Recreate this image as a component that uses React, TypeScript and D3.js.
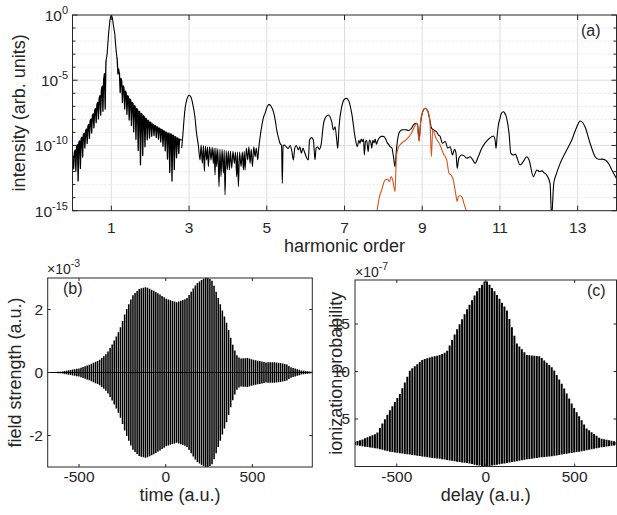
import React from 'react';
import * as d3 from 'd3';

// ---------------- Panel (a): harmonic spectrum (values are log10 intensity) ----------------
const harmonicTicks = [1, 3, 5, 7, 9, 11, 13];
const decadeTicks = [0, -5, -10, -15];
const fringeSpacing = 0.058; // harmonic-order spacing of the dense fringes
// [harmonic order, upper envelope, lower envelope]
const fringeLeft: number[][] = [
  [0, -10.9, -11.7], [0.1, -10.1, -12.0], [0.15, -9.8, -12.8], [0.2, -9.58, -11.8], [0.3, -9.07, -10.3],
  [0.4, -8.5, -9.7], [0.5, -7.8, -9.0], [0.6, -7.1, -8.3], [0.7, -6.26, -7.8], [0.8, -5.0, -7.3], [0.87, -3.4, -7.15],
];
const mainPeak: number[][] = [
  [0.87, -3.4], [0.89, -3.0], [0.91, -2.2], [0.93, -1.4], [0.95, -0.8], [0.97, -0.3], [1.0, 0], [1.03, -0.3],
  [1.05, -0.75], [1.086, -1.4], [1.11, -2.3], [1.14, -3.2],
];
const fringeRight: number[][] = [
  [1.14, -3.2, -3.5], [1.2, -4.4, -5.6], [1.3, -5.4, -6.9], [1.4, -6.1, -7.6], [1.56, -6.8, -8.8], [1.66, -7.2, -9.8],
  [1.75, -7.5, -11.5], [1.82, -7.7, -10.6], [1.91, -8.0, -9.6], [2.08, -8.4, -9.2], [2.25, -8.7, -9.6],
  [2.42, -9.0, -10.6], [2.55, -9.15, -12.9], [2.68, -9.4, -10.9], [2.81, -9.6, -10.2],
];
const blackTail: number[][] = [
  [2.81, -10.2], [2.84, -9.2], [2.87, -8.0], [2.9, -7.1], [2.95, -6.4], [3.0, -6.15], [3.05, -6.3], [3.1, -6.9],
  [3.15, -7.8], [3.19, -9.0], [3.239, -10.0],
  [3.282, -11.11], [3.31, -9.96], [3.342, -11.37], [3.37, -10.0], [3.394, -12.0], [3.42, -10.05], [3.453, -11.11],
  [3.475, -10.1], [3.496, -11.62], [3.53, -10.1], [3.565, -11.11], [3.595, -10.15], [3.625, -11.37], [3.645, -10.2],
  [3.668, -12.26], [3.69, -10.2], [3.711, -11.62], [3.74, -10.25], [3.771, -13.16], [3.795, -10.3], [3.822, -12.39],
  [3.85, -10.3], [3.883, -12.13], [3.905, -10.35], [3.925, -13.8], [3.955, -10.4], [3.985, -11.88], [4.01, -10.4],
  [4.037, -11.88], [4.065, -10.45], [4.097, -11.75], [4.13, -10.45], [4.166, -11.37], [4.195, -10.5], [4.226, -12.39],
  [4.245, -10.5], [4.269, -13.16], [4.3, -10.5], [4.338, -11.62], [4.37, -10.5], [4.398, -11.88], [4.42, -10.45],
  [4.441, -11.88], [4.475, -10.2], [4.509, -11.11], [4.54, -10.1], [4.569, -11.37], [4.6, -10.3], [4.63, -11.62],
  [4.665, -10.1], [4.698, -10.86], [4.73, -10.2], [4.767, -11.1],
  [4.79, -10.3], [4.83, -9.3], [4.868, -8.56], [4.91, -7.9], [4.955, -7.54], [5.0, -7.1], [5.058, -6.85], [5.11, -7.0],
  [5.17, -7.41], [5.22, -8.1], [5.255, -8.81], [5.3, -9.4], [5.34, -9.83], [5.38, -10.0], [5.40, -12.9], [5.42, -10.0],
  [5.45, -9.96], [5.5, -10.1], [5.555, -10.22], [5.6, -10.0], [5.64, -10.35], [5.684, -11.11], [5.72, -10.2],
  [5.76, -10.0], [5.813, -10.34], [5.85, -10.1], [5.89, -10.6], [5.93, -10.2], [5.97, -10.5], [6.02, -10.9],
  [6.07, -11.11], [6.1, -9.6], [6.15, -9.4], [6.2, -9.6], [6.24, -11.1], [6.27, -10.2], [6.31, -10.1], [6.35, -10.3],
  [6.4, -9.9], [6.456, -8.4], [6.5, -7.92], [6.585, -7.66], [6.67, -8.18], [6.714, -8.81], [6.757, -8.56], [6.8, -9.58],
  [6.826, -10.22], [6.86, -8.56], [6.93, -7.02], [6.998, -6.46], [7.058, -6.39], [7.117, -6.64], [7.186, -7.54],
  [7.27, -9.32], [7.33, -10.09], [7.37, -9.6], [7.4, -9.83], [7.43, -9.5], [7.46, -9.7], [7.49, -9.5], [7.51, -10.73],
  [7.54, -9.7], [7.57, -9.6], [7.61, -10.47], [7.64, -9.58], [7.68, -9.8], [7.7, -10.2], [7.73, -9.6], [7.76, -9.8],
  [7.79, -9.5], [7.82, -9.9], [7.86, -9.6], [7.9, -9.4], [7.95, -9.3], [8.0, -9.3], [8.06, -9.5], [8.1, -9.8],
  [8.13, -9.9], [8.18, -10.1], [8.22, -10.2], [8.26, -10.86], [8.3, -11.62], [8.34, -10.2], [8.38, -9.3], [8.43, -8.9],
  [8.5, -8.8], [8.58, -8.8], [8.65, -8.85], [8.72, -8.7], [8.78, -8.4], [8.85, -8.3], [8.88, -8.4], [8.92, -9.6],
  [8.96, -8.2], [9.01, -7.45], [9.073, -7.15], [9.14, -7.35], [9.2, -8.1], [9.23, -8.6], [9.29, -8.81], [9.37, -8.95],
  [9.42, -9.2], [9.46, -9.3], [9.52, -9.83], [9.59, -9.7], [9.66, -10.2], [9.72, -10.1], [9.78, -10.73], [9.83, -10.3],
  [9.87, -10.6], [9.9, -11.75], [9.94, -11.0], [10.017, -10.73], [10.08, -10.8], [10.146, -10.98], [10.232, -10.86],
  [10.3, -11.1], [10.36, -11.37], [10.45, -10.8], [10.532, -10.22], [10.62, -9.8], [10.703, -9.53], [10.832, -9.27],
  [10.875, -9.58], [10.9, -10.22], [10.93, -9.2], [10.96, -8.43], [11.0, -7.95], [11.03, -7.59], [11.06, -7.45],
  [11.09, -7.41], [11.12, -7.5], [11.175, -7.92], [11.235, -9.07], [11.28, -10.6], [11.35, -10.73], [11.4, -10.65],
  [11.43, -10.86], [11.52, -11.5], [11.6, -11.24], [11.69, -10.86], [11.75, -11.11], [11.86, -12.39], [11.95, -11.88],
  [12.02, -12.0], [12.08, -11.95], [12.14, -12.1], [12.2, -12.26], [12.29, -12.9], [12.33, -15.5], [12.385, -12.9],
  [12.45, -12.2], [12.55, -11.37], [12.72, -10.34], [12.85, -9.58], [12.98, -8.56], [13.065, -8.12], [13.19, -8.56],
  [13.32, -9.83], [13.45, -10.86], [13.54, -11.06], [13.62, -11.05], [13.71, -11.11], [13.8, -11.4], [13.88, -11.88],
  [14.02, -12.64],
];
const orangeH9: number[][] = [
  [7.83, -15.2], [7.89, -14.05], [7.958, -13.41], [8.044, -12.64], [8.11, -12.59], [8.155, -12.77], [8.2, -12.39],
  [8.24, -12.64], [8.3, -13.54], [8.335, -10.86], [8.386, -10.14], [8.47, -9.83], [8.6, -9.53], [8.71, -9.12],
  [8.8, -8.56], [8.866, -8.3], [8.92, -9.71], [8.96, -8.18], [9.01, -7.41], [9.073, -7.15], [9.14, -7.33], [9.2, -8.18],
  [9.236, -10.86], [9.27, -8.81], [9.356, -9.45], [9.46, -9.96], [9.54, -10.6], [9.63, -11.11], [9.69, -12.13],
  [9.74, -12.26], [9.8, -12.64], [9.86, -13.67], [9.9, -14.3], [9.93, -13.9], [9.98, -13.85], [10.03, -14.0],
  [10.08, -14.5], [10.15, -15.2],
];

// ---------------- Panel (b): field strength (×1e-3) ----------------
const fieldTime = [-681, -600, -500, -440, -384, -340, -306, -267, -229, -190, -151, -112, -54, 4, 62, 120, 178, 237,
  270, 295, 325, 353, 375, 391, 410, 430, 469, 527, 580, 620, 663, 700, 721, 779, 846];
const fieldEnvelope = [0.0, 0.03, 0.13, 0.25, 0.39, 0.6, 0.92, 1.34, 1.97, 2.45, 2.66, 2.71, 2.55, 2.34, 2.23, 2.34,
  2.82, 3.05, 2.9, 2.5, 2.0, 1.55, 1.1, 0.81, 0.55, 0.44, 0.46, 0.38, 0.32, 0.33, 0.3, 0.25, 0.17, 0.07, 0.02];
const fieldSpacing = 12; // a.u.
const fieldTicksX = [-500, 0, 500];
const fieldTicksY = [-2, 0, 2];

// ---------------- Panel (c): ionization probability (×1e-7) ----------------
const delayTime = [-735, -700, -612, -538, -481, -425, -352, -300, -257, -219, -163, -107, -51, 0, 51, 118, 174, 230,
  304, 379, 436, 492, 567, 642, 735];
const ionUpper = [2.61, 2.8, 3.49, 5.95, 7.7, 10.16, 11.28, 11.55, 11.74, 12.09, 14.37, 16.47, 18.4, 19.63, 18.4, 16.47,
  12.96, 11.74, 11.6, 10.3, 8.4, 6.3, 4.0, 2.96, 2.61];
const ionLower = [2.26, 2.15, 1.9, 1.56, 1.39, 1.25, 1.05, 0.9, 0.8, 0.7, 0.5, 0.37, 0.15, 0.0, 0.15, 0.37, 0.55, 0.75,
  0.95, 1.1, 1.3, 1.45, 1.7, 2.0, 2.26];
const delaySpacing = 14; // a.u.
const delayTicksX = [-500, 0, 500];
const delayTicksY = [5, 10, 15];

const FONT = "'Liberation Sans', Arial, Helvetica, sans-serif";
const AX = '#262626';
const GRID = '#dedede';

export default function App() {
  // ---- panel (a) scales
  const ax = d3.scaleLinear().domain([0, 14]).range([72.5, 616.5]);
  const ay = d3.scaleLog().domain([1e-15, 1]).range([210.7, 15]);
  const yv = (v: number) => ay(Math.pow(10, v));
  const aTop = 15, aBot = 210.7, aL = 72.5, aR = 616.5;

  const fringePath = (rows: number[][]) => {
    const hs = rows.map((r) => r[0]);
    const up = d3.scaleLinear().domain(hs).range(rows.map((r) => r[1]));
    const lo = d3.scaleLinear().domain(hs).range(rows.map((r) => r[2]));
    const h0 = hs[0], h1 = hs[hs.length - 1];
    const s = fringeSpacing;
    const w = 0.32 * s;
    const pts: [number, number][] = [];
    for (let h = h0; h < h1; h += s) {
      pts.push([h, up(h)]);
      const hm = h + s * 0.5;
      if (hm + w < h1) {
        pts.push([hm - w, up(hm - w)]);
        pts.push([hm, lo(hm)]);
        pts.push([hm + w, up(hm + w)]);
      }
    }
    pts.push([h1, up(h1)]);
    return d3.line()(pts.map(([h, v]) => [ax(h), yv(v)] as [number, number]));
  };
  const smoothLine = d3.line<number[]>().x((d) => ax(d[0])).y((d) => yv(d[1])).curve(d3.curveMonotoneX);
  const peakLine = d3.line<number[]>().x((d) => ax(d[0])).y((d) => yv(d[1])).curve(d3.curveCatmullRom.alpha(0.5));

  const minorExps = d3.range(-14, 0).filter((e) => e % 5 !== 0);

  // ---- panel (b)
  const bL = 47.7, bR = 312.3, bT = 278, bB = 467;
  const bx = d3.scaleLinear().domain([-681, 846]).range([bL, bR]);
  const by = d3.scaleLinear().domain([-3, 3]).range([bB, bT]);
  const envB = d3.scaleLinear().domain(fieldTime).range(fieldEnvelope);
  const bStripes = d3.range(-681, 846, fieldSpacing);

  // ---- panel (c)
  const cL = 355, cR = 616.5, cT = 280, cB = 466.5;
  const cx = d3.scaleLinear().domain([-735, 735]).range([cL, cR]);
  const cy = d3.scaleLinear().domain([0, 19.63]).range([cB, cT]);
  const upC = d3.scaleLinear().domain(delayTime).range(ionUpper);
  const loC = d3.scaleLinear().domain(delayTime).range(ionLower);
  const cStripes = d3.range(-735, 736, delaySpacing);

  const tickFont = 15.5;
  const labelFont = 18;

  return (
    <svg width={617} height={515} viewBox="0 0 617 515" style={{ display: 'block', position: 'absolute', left: 0, top: 0, background: '#fff' }} fontFamily={FONT}>
      <defs>
        <clipPath id="clipA"><rect x={aL} y={aTop} width={aR - aL} height={aBot - aTop} /></clipPath>
        <clipPath id="clipB"><rect x={bL} y={bT} width={bR - bL} height={bB - bT} /></clipPath>
        <clipPath id="clipC"><rect x={cL} y={cT} width={cR - cL} height={cB - cT} /></clipPath>
      </defs>
      <rect x={0} y={0} width={617} height={515} fill="#fff" />

      {/* ===== Panel (a) ===== */}
      <g>
        {minorExps.map((e) => (
          <line key={'mg' + e} x1={aL} x2={aR} y1={yv(e)} y2={yv(e)} stroke={GRID} strokeWidth={0.8} strokeDasharray="2,2" />
        ))}
        {[-5, -10].map((e) => (
          <line key={'Mg' + e} x1={aL} x2={aR} y1={yv(e)} y2={yv(e)} stroke={GRID} strokeWidth={1} />
        ))}
        {harmonicTicks.map((h) => (
          <line key={'vg' + h} x1={ax(h)} x2={ax(h)} y1={aTop} y2={aBot} stroke={GRID} strokeWidth={1} />
        ))}
        <g clipPath="url(#clipA)" fill="none" stroke="#000" strokeWidth={1.1} strokeLinejoin="round">
          <path d={fringePath(fringeLeft) || ''} strokeWidth={1.3} />
          <path d={peakLine(mainPeak) || ''} />
          <path d={fringePath(fringeRight) || ''} strokeWidth={1.3} />
          <path d={smoothLine(blackTail) || ''} />
          <path d={smoothLine(orangeH9) || ''} stroke="#D95319" />
        </g>
        <rect x={aL} y={aTop} width={aR - aL} height={aBot - aTop} fill="none" stroke={AX} strokeWidth={1} />
        {harmonicTicks.map((h) => (
          <g key={'xt' + h}>
            <line x1={ax(h)} x2={ax(h)} y1={aBot} y2={aBot - 5} stroke={AX} />
            <line x1={ax(h)} x2={ax(h)} y1={aTop} y2={aTop + 5} stroke={AX} />
            <text x={ax(h)} y={233} textAnchor="middle" fontSize={tickFont} fill={AX}>{h}</text>
          </g>
        ))}
        {d3.range(-15, 1).map((e) => {
          const len = e % 5 === 0 ? 5 : 3;
          return (
            <g key={'yt' + e}>
              <line x1={aL} x2={aL + len} y1={yv(e)} y2={yv(e)} stroke={AX} />
              <line x1={aR} x2={aR - len} y1={yv(e)} y2={yv(e)} stroke={AX} />
            </g>
          );
        })}
        {decadeTicks.map((e) => (
          <text key={'yl' + e} x={68} y={yv(e) + 6} textAnchor="end" fontSize={tickFont} fill={AX}>
            10<tspan dy={-7} fontSize={11}>{e === 0 ? '0' : '-' + Math.abs(e)}</tspan>
          </text>
        ))}
        <text x={(aL + aR) / 2} y={252} textAnchor="middle" fontSize={labelFont} fill={AX}>harmonic order</text>
        <text transform={`translate(25,${(aTop + aBot) / 2}) rotate(-90)`} textAnchor="middle" fontSize={labelFont} fill={AX}>intensity (arb. units)</text>
        <text x={581} y={36} fontSize={16} fill={AX}>(a)</text>
      </g>

      {/* ===== Panel (b) ===== */}
      <g>
        <g clipPath="url(#clipB)" stroke="#000" strokeWidth={1.55}>
          {bStripes.map((t) => {
            const e = envB(t);
            return <line key={'bs' + t} x1={bx(t)} x2={bx(t)} y1={by(e)} y2={by(-e)} />;
          })}
          <line x1={bL} x2={bR} y1={by(0)} y2={by(0)} strokeWidth={1} />
        </g>
        <rect x={bL} y={bT} width={bR - bL} height={bB - bT} fill="none" stroke={AX} strokeWidth={1} />
        {fieldTicksX.map((t) => (
          <g key={'bxt' + t}>
            <line x1={bx(t)} x2={bx(t)} y1={bB} y2={bB - 3} stroke={AX} />
            <line x1={bx(t)} x2={bx(t)} y1={bT} y2={bT + 3} stroke={AX} />
            <text x={bx(t)} y={482} textAnchor="middle" fontSize={tickFont} fill={AX}>{t}</text>
          </g>
        ))}
        {fieldTicksY.map((v) => (
          <g key={'byt' + v}>
            <line x1={bL} x2={bL + 3} y1={by(v)} y2={by(v)} stroke={AX} />
            <line x1={bR} x2={bR - 3} y1={by(v)} y2={by(v)} stroke={AX} />
            <text x={43} y={by(v) + 5.5} textAnchor="end" fontSize={tickFont} fill={AX}>{v}</text>
          </g>
        ))}
        <text x={47} y={273.5} fontSize={14} fill={AX}>×10<tspan dy={-7} fontSize={10.5}>-3</tspan></text>
        <text x={63} y={294} fontSize={16} fill={AX}>(b)</text>
        <text x={(bL + bR) / 2} y={501} textAnchor="middle" fontSize={labelFont} fill={AX}>time (a.u.)</text>
        <text transform={`translate(21,${(bT + bB) / 2}) rotate(-90)`} textAnchor="middle" fontSize={labelFont} fill={AX}>field strength (a.u.)</text>
      </g>

      {/* ===== Panel (c) ===== */}
      <g>
        <g clipPath="url(#clipC)" stroke="#000" strokeWidth={1.95}>
          {cStripes.map((t) => (
            <line key={'cs' + t} x1={cx(t)} x2={cx(t)} y1={cy(upC(t))} y2={cy(loC(t))} />
          ))}
        </g>
        <rect x={cL} y={cT} width={cR - cL} height={cB - cT} fill="none" stroke={AX} strokeWidth={1} />
        {delayTicksX.map((t) => (
          <g key={'cxt' + t}>
            <line x1={cx(t)} x2={cx(t)} y1={cB} y2={cB - 3} stroke={AX} />
            <line x1={cx(t)} x2={cx(t)} y1={cT} y2={cT + 3} stroke={AX} />
            <text x={cx(t)} y={482} textAnchor="middle" fontSize={tickFont} fill={AX}>{t}</text>
          </g>
        ))}
        {delayTicksY.map((v) => (
          <g key={'cyt' + v}>
            <line x1={cL} x2={cL + 3} y1={cy(v)} y2={cy(v)} stroke={AX} />
            <line x1={cR} x2={cR - 3} y1={cy(v)} y2={cy(v)} stroke={AX} />
            <text x={350} y={cy(v) + 5.5} textAnchor="end" fontSize={tickFont} fill={AX}>{v}</text>
          </g>
        ))}
        <text x={355} y={276.5} fontSize={14} fill={AX}>×10<tspan dy={-7} fontSize={10.5}>-7</tspan></text>
        <text x={587} y={296} fontSize={16} fill={AX}>(c)</text>
        <text x={(cL + cR) / 2} y={501} textAnchor="middle" fontSize={labelFont} fill={AX}>delay (a.u.)</text>
        <text transform={`translate(342,${(cT + cB) / 2}) rotate(-90)`} textAnchor="middle" fontSize={labelFont} fill={AX}>ionization probability</text>
      </g>
    </svg>
  );
}
